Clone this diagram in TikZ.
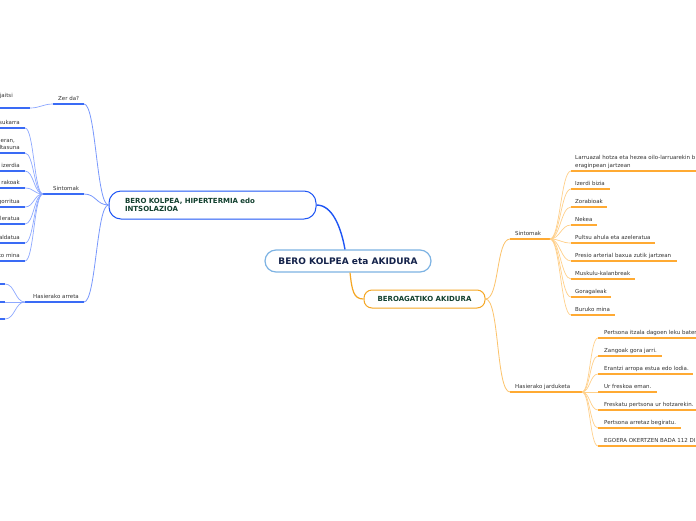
\documentclass[tikz,border=0pt]{standalone}
\usepackage{fontspec}
\setmainfont{DejaVu Sans}
\definecolor{bmain}{HTML}{1E55F5}
\definecolor{bunder}{HTML}{3A6BF5}
\definecolor{blight}{HTML}{8EA9FF}
\definecolor{omain}{HTML}{F5A623}
\definecolor{ounder}{HTML}{FFAA33}
\definecolor{olight}{HTML}{FFD08A}
\definecolor{cborder}{HTML}{7DB3E3}
\definecolor{navy}{HTML}{14224A}
\definecolor{dgreen}{HTML}{12402F}
\definecolor{txtgray}{HTML}{333333}
\begin{document}
\begin{tikzpicture}[x=1pt,y=-1pt,
  leaftext/.style={inner sep=0pt, text=txtgray, font=\fontsize{5.5}{6.5}\selectfont},
  subtext/.style={inner sep=0pt, text=txtgray, font=\fontsize{5.5}{6.5}\selectfont},
  bline/.style={draw=bunder, line width=1.8pt},
  bconn/.style={draw=blight, line width=0.7pt},
  bsub/.style={draw=blight!80!bmain, line width=0.8pt},
  oline/.style={draw=ounder, line width=1.8pt},
  oconn/.style={draw=olight, line width=0.7pt},
  osub/.style={draw=olight!70!omain, line width=0.8pt},
]
\fill[white] (0,0) rectangle (696,520);
\useasboundingbox (0,0) rectangle (696,520);
\clip (0,0) rectangle (696,520);

% ---------- main nodes ----------
\node[draw=cborder, line width=1.2pt, fill=white, rounded corners=11pt,
  minimum width=166pt, minimum height=22pt, inner sep=0pt, text=navy,
  font=\fontsize{9}{11}\selectfont\bfseries] (root) at (348,261) {BERO KOLPEA eta AKIDURA};

\node[draw=bmain, line width=1pt, fill=white, rounded corners=12pt,
  minimum width=207pt, minimum height=28pt, inner sep=0pt, text width=175pt, align=left,
  text=dgreen, font=\fontsize{7}{8}\selectfont\bfseries] (lmain) at (212.5,205)
  {BERO KOLPEA, HIPERTERMIA edo\\INTSOLAZIOA};

\node[draw=omain, line width=1pt, fill=white, rounded corners=8pt,
  minimum width=121pt, minimum height=18pt, inner sep=0pt,
  text=dgreen, font=\fontsize{7}{8}\selectfont\bfseries] (rmain) at (424.5,299)
  {BEROAGATIKO AKIDURA};

\draw[draw=bmain, line width=1.4pt] ([xshift=-3pt]root.north) .. controls +(-4,-22) and +(16,0) .. (lmain.east);
\draw[draw=omain, line width=1.2pt] ([xshift=2pt]root.south) .. controls +(2,18) and +(-10,0) .. (rmain.west);

% ---------- right: Sintomak ----------
\coordinate (rsintS) at (510,239);
\coordinate (rsint) at (550,239);
\node[subtext, anchor=base west] (rsintT) at (515,235) {Sintomak};
\draw[osub] (rmain.east) .. controls +(14,0) and +(-14,0) .. (rsintS);
\draw[oline] (rsintS) -- (rsint);

\coordinate (ra) at (571,171);
\coordinate (ea) at (700,171);
\node[leaftext, anchor=base west] (ta1) at (575,159) {Larruazal hotza eta hezea oilo-larruarekin b};
\node[leaftext, anchor=base west] (ta2) at (575,167) {eraginpean jartzean};
\draw[oconn] (rsint) .. controls +(10,0) and +(-10,0) .. (ra);
\draw[oline] (ra) -- (ea);

\foreach \n/\y/\e/\t in {rb/189/610/{Izerdi bizia}, rc/207/607/{Zorabioak}, rd/225/597/{Nekea},
  re/243/655/{Pultsu ahula eta azeleratua}, rf/261/677/{Presio arterial baxua zutik jartzean},
  rg/279/635/{Muskulu-kalanbreak}, rh/297/611/{Goragaleak}, ri/315/615/{Buruko mina}} {
  \coordinate (\n) at (571,\y);
  \coordinate (e\n) at (\e,\y);
  \node[leaftext, anchor=base west] (t\n) at (575,\y-4) {\t};
  \draw[oconn] (rsint) .. controls +(10,0) and +(-10,0) .. (\n);
  \draw[oline] (\n) -- (e\n);
}

% ---------- right: Hasierako jarduketa ----------
\coordinate (rhasS) at (510,392);
\coordinate (rhas) at (582,392);
\node[subtext, anchor=base west] (rhasT) at (515,388) {Hasierako jarduketa};
\draw[osub] (rmain.east) .. controls +(14,0) and +(-14,0) .. (rhasS);
\draw[oline] (rhasS) -- (rhas);

\foreach \n/\y/\e/\t in {ha/338/700/{Pertsona itzala dagoen leku batera}, hb/356/662/{Zangoak gora jarri.},
  hc/374/693/{Erantzi arropa estua edo lodia.}, hd/392/657/{Ur freskoa eman.},
  he/410/700/{Freskatu pertsona ur hotzarekin.}, hf/428/681/{Pertsona arretaz begiratu.},
  hg/446/700/{EGOERA OKERTZEN BADA 112 DI}} {
  \coordinate (\n) at (598,\y);
  \coordinate (e\n) at (\e,\y);
  \node[leaftext, anchor=base west] (t\n) at (604,\y-4) {\t};
  \draw[oconn] (rhas) .. controls +(8,0) and +(-8,0) .. (\n);
  \draw[oline] (\n) -- (e\n);
}

% ---------- left: Zer da? ----------
\coordinate (lzerE) at (84,104);
\coordinate (lzer) at (53,104);
\node[subtext, anchor=base west] (lzerT) at (58,100) {Zer da?};
\draw[bsub] (lmain.west) .. controls +(-12,0) and +(12,0) .. (lzerE);
\draw[bline] (lzer) -- (lzerE);
\coordinate (za) at (30,108);
\coordinate (sza) at (-10,108);
\node[leaftext, anchor=base east] (tza) at (13,97) {jaitsi};
\draw[bconn] (lzer) .. controls +(-10,0) and +(10,0) .. (za);
\draw[bline] (sza) -- (za);

% ---------- left: Sintomak ----------
\coordinate (lsintE) at (84,194);
\coordinate (lsint) at (43,194);
\node[subtext, anchor=base west] (lsintT) at (53,190) {Sintomak};
\draw[bsub] (lmain.west) .. controls +(-12,0) and +(12,0) .. (lsintE);
\draw[bline] (lsint) -- (lsintE);

\coordinate (lb) at (25,153);
\coordinate (slb) at (-10,153);
\node[leaftext, anchor=base west] (tlb1) at (0.5,142) {eran,};
\node[leaftext, anchor=base east] (tlb2) at (20,149) {ltasuna};
\draw[bconn] (lsint) .. controls +(-9,0) and +(9,0) .. (lb);
\draw[bline] (slb) -- (lb);

\foreach \n/\y/\t in {la/128/{sukarra}, lc/171/{izerdia}, ld/188/{rakoak}, le/207/{gorritua},
  lf/224/{leratua}, lg/243/{aldatua}, lh/261/{ko mina}} {
  \coordinate (\n) at (25,\y);
  \coordinate (s\n) at (-10,\y);
  \node[leaftext, anchor=base east] (t\n) at (20,\y-4) {\t};
  \draw[bconn] (lsint) .. controls +(-9,0) and +(9,0) .. (\n);
  \draw[bline] (s\n) -- (\n);
}

% ---------- left: Hasierako arreta ----------
\coordinate (larrE) at (84,302);
\coordinate (larr) at (25,302);
\node[subtext, anchor=base west] (larrT) at (33,298) {Hasierako arreta};
\draw[bsub] (lmain.west) .. controls +(-12,0) and +(12,0) .. (larrE);
\draw[bline] (larr) -- (larrE);
\foreach \n/\y in {aa/284, ab/302, ac/319} {
  \coordinate (\n) at (5,\y);
  \coordinate (s\n) at (-10,\y);
  \draw[bconn] (larr) .. controls +(-10,0) and +(10,0) .. (\n);
  \draw[bline] (s\n) -- (\n);
}
\end{tikzpicture}
\end{document}
